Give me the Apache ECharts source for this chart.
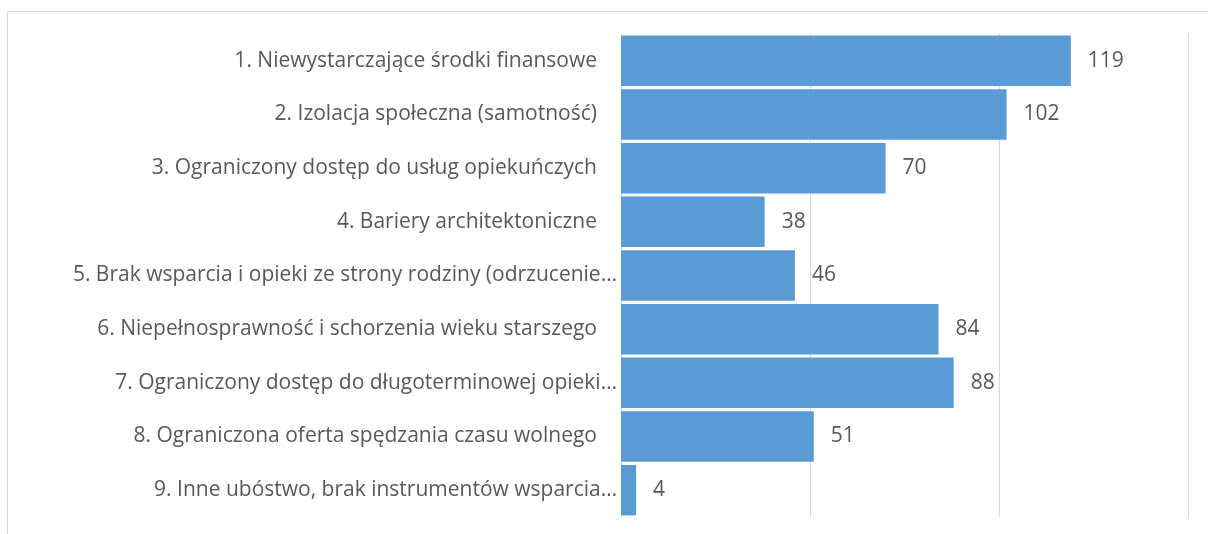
<!DOCTYPE html>
<html>
<head>
<meta charset="utf-8">
<script src="https://cdn.jsdelivr.net/npm/echarts@6/dist/echarts.min.js"></script>
<style>
  html, body { margin: 0; padding: 0; background: #fff; overflow: hidden; }
  #chart { width: 1208px; height: 534px; }
</style>
</head>
<body>
<div id="chart"></div>
<script>
// kategorie (od góry do dołu)
var categories = [
  '1. Niewystarczające środki finansowe',
  '2. Izolacja społeczna (samotność)',
  '3. Ograniczony dostęp do usług opiekuńczych',
  '4. Bariery architektoniczne',
  '5. Brak wsparcia i opieki ze strony rodziny (odrzucenie…',
  '6. Niepełnosprawność i schorzenia wieku starszego',
  '7. Ograniczony dostęp do długoterminowej opieki…',
  '8. Ograniczona oferta spędzania czasu wolnego',
  '9. Inne ubóstwo, brak instrumentów wsparcia…'
];
var values = [119, 102, 70, 38, 46, 84, 88, 51, 4];
var axisMax = 150;
var axisStep = 50;

var chart = echarts.init(document.getElementById('chart'));
var font = '"Open Sans", "Noto Sans", sans-serif';

chart.setOption({
  animation: false,
  graphic: [
    {
      type: 'rect',
      silent: true,
      z: -10,
      shape: { x: 7.5, y: 11.5, width: 1400, height: 800 },
      style: { fill: 'none', stroke: '#d9d9d9', lineWidth: 1 }
    }
  ],
  grid: { left: 621, right: 20, top: 34, bottom: 17, containLabel: false },
  xAxis: {
    type: 'value',
    min: 0,
    max: axisMax,
    interval: axisStep,
    axisLine: { show: false },
    axisTick: { show: false },
    axisLabel: { show: false },
    splitLine: { show: true, lineStyle: { color: '#d9d9d9', width: 1 } }
  },
  yAxis: {
    type: 'category',
    data: categories,
    inverse: true,
    axisLine: { show: false },
    axisTick: { show: false },
    axisLabel: {
      margin: 4,
      color: '#595959',
      fontFamily: font,
      fontSize: 21,
      // pełne etykiety mają odstęp od osi jak w oryginale
      formatter: function (v) {
        return v.slice(-1) === '…' ? v : '{p|' + v + '}';
      },
      rich: {
        p: { color: '#595959', fontFamily: font, fontSize: 21, padding: [0, 20, 0, 0] }
      }
    }
  },
  series: [
    {
      type: 'bar',
      data: values,
      barCategoryGap: '6%',
      itemStyle: { color: '#5b9bd5' },
      label: {
        show: true,
        position: 'right',
        distance: 17,
        color: '#595959',
        fontFamily: font,
        fontSize: 21
      }
    }
  ]
});
</script>
</body>
</html>
